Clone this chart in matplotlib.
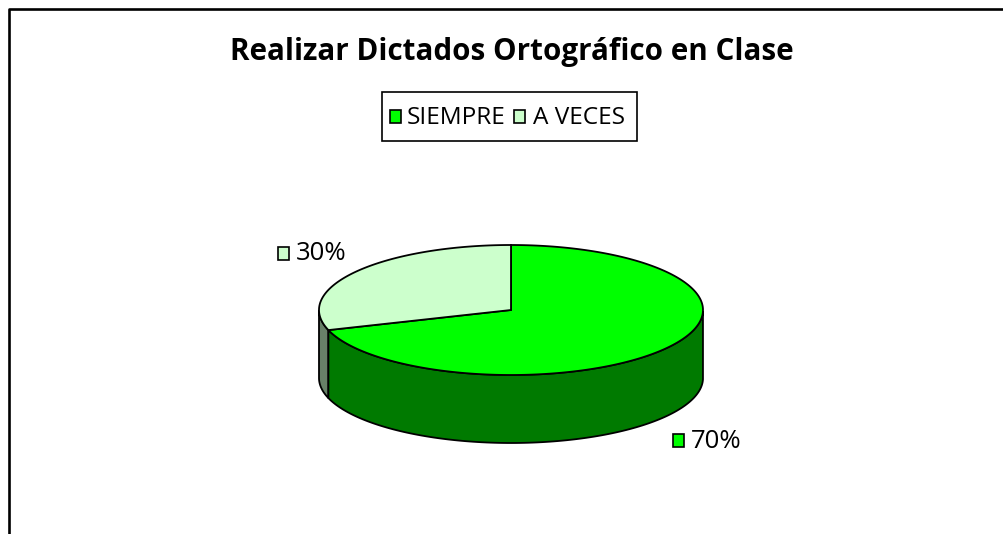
import numpy as np
import matplotlib
matplotlib.use('Agg')
import matplotlib.pyplot as plt
from matplotlib.patches import Rectangle

plt.rcParams['font.family'] = ['Open Sans', 'DejaVu Sans']

title = 'Realizar Dictados Ortográfico en Clase'
categories = ['SIEMPRE', 'A VECES']
values = [70, 30]
labels = ['70%', '30%']
top_colors = ['#00ff00', '#ccffcc']
side_colors = ['#007a00', '#688068']

# pie geometry in pixels
cx, cy = 511, 310
rx, ry = 192, 65
depth = 68

fig = plt.figure(figsize=(10.04, 5.34), dpi=100)
ax = fig.add_axes([0, 0, 1, 1])
ax.set_xlim(0, 1004)
ax.set_ylim(534, 0)
ax.axis('off')

# outer frame, bottom runs off the image
ax.plot([9, 9, 1004], [534, 8.5, 8.5], color='black', lw=1.9, solid_capstyle='butt')


def ell(t):
    return cx + rx * np.cos(t), cy - ry * np.sin(t)


# slices start at 12 o'clock and run clockwise
fracs = np.array(values) / sum(values)
edges = np.pi / 2 - 2 * np.pi * np.concatenate([[0], np.cumsum(fracs)])

# side walls, only the front half shows
for i in [1, 0]:
    t = np.linspace(edges[i], edges[i + 1], 200)
    t = t[np.sin(t) <= 0]
    x, y = ell(t)
    ax.fill(np.r_[x, x[::-1]], np.r_[y, y[::-1] + depth],
            fc=side_colors[i], ec='black', lw=1.3, zorder=2)

# top faces
for i in range(len(values)):
    t = np.linspace(edges[i], edges[i + 1], 200)
    x, y = ell(t)
    ax.fill(np.r_[cx, x], np.r_[cy, y], fc=top_colors[i], ec='black',
            lw=1.3, joinstyle='miter', zorder=3)

ax.text(512, 52, title, ha='center', va='center', fontsize=21.3,
        fontweight='bold', color='black')

# legend box
ax.add_patch(Rectangle((382, 92), 255, 49, fc='white', ec='black', lw=1.2))
leg_x = [390, 514]
leg_text_x = [407, 533]
for i, name in enumerate(categories):
    ax.add_patch(Rectangle((leg_x[i], 110), 11, 13, fc=top_colors[i], ec='black', lw=1.2))
    ax.text(leg_text_x[i], 118, name, ha='left', va='center', fontsize=17.6, color='black')

# data labels
lab_x = [673, 278]
lab_y = [440, 253]
for i, lab in enumerate(labels):
    ax.add_patch(Rectangle((lab_x[i], lab_y[i] - 6), 11, 13, fc=top_colors[i], ec='black', lw=1.2))
    ax.text(lab_x[i] + 18, lab_y[i] + 1, lab, ha='left', va='center', fontsize=18.5, color='black')

fig.savefig('out.png', dpi=100)
